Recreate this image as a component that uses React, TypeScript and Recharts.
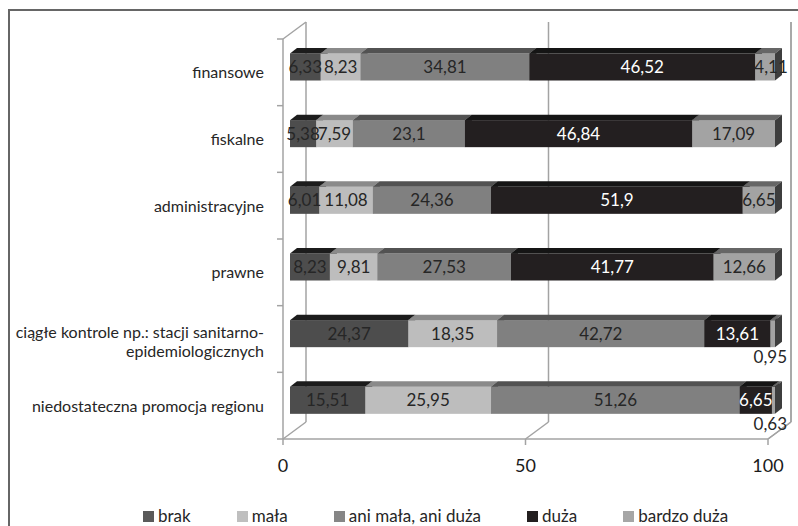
import React from 'react'
import { BarChart, Bar, XAxis, YAxis, CartesianGrid, LabelList } from 'recharts'

const categories = [
  'finansowe',
  'fiskalne',
  'administracyjne',
  'prawne',
  'ciągłe kontrole np.: stacji sanitarno-epidemiologicznych',
  'niedostateczna promocja regionu',
]
const brak = [6.33, 5.38, 6.01, 8.23, 24.37, 15.51]
const mala = [8.23, 7.59, 11.08, 9.81, 18.35, 25.95]
const aniMalaAniDuza = [34.81, 23.1, 24.36, 27.53, 42.72, 51.26]
const duza = [46.52, 46.84, 51.9, 41.77, 13.61, 6.65]
const bardzoDuza = [4.11, 17.09, 6.65, 12.66, 0.95, 0.63]
const xTicks = [0, 50, 100]

const series = [
  { key: 'brak', name: 'brak', values: brak, front: '#4d4d4d', top: '#1c1c1c', side: '#333333', text: '#262626', legend: '#5a5a5a' },
  { key: 'mala', name: 'mała', values: mala, front: '#bdbdbd', top: '#8a8a8a', side: '#8a8a8a', text: '#262626', legend: '#bfbfbf' },
  { key: 'ani', name: 'ani mała, ani duża', values: aniMalaAniDuza, front: '#808080', top: '#525252', side: '#4a4a4a', text: '#262626', legend: '#868686' },
  { key: 'duza', name: 'duża', values: duza, front: '#231f20', top: '#151515', side: '#111111', text: '#ffffff', legend: '#231f20' },
  { key: 'bardzo', name: 'bardzo duża', values: bardzoDuza, front: '#a3a3a3', top: '#666666', side: '#3d3d3d', text: '#262626', legend: '#a6a6a6' },
]

const data = categories.map((name, i) => {
  const row: any = { name }
  series.forEach((s) => (row[s.key] = s.values[i]))
  return row
})

const W = 798
const H = 526
const Y_AXIS_W = 283
const MARGIN = { top: 39, right: 30, left: 0, bottom: 57 }
const PLOT_H = H - MARGIN.top - MARGIN.bottom - 30
const BAND = PLOT_H / categories.length
// 3D offsets: wall depth and bar depth
const DX = 23
const DY = 17
const BX = 7
const BY = 5.5
const AXIS_COLOR = '#a3a3a3'
const FONT = 'Lato, "Open Sans", sans-serif'

const fmt = (v: number) => String(v).replace('.', ',')

const makeShape = (s: any) => (props: any) => {
  const { x, y, width, height } = props
  const x0 = x + BX
  const y0 = y - BY
  return (
    <g>
      <rect x={x0} y={y0} width={width} height={height} fill={s.front} />
      <polygon
        points={`${x0},${y0} ${x0 + width},${y0} ${x0 + width + BX},${y0 - BY} ${x0 + BX},${y0 - BY}`}
        fill={s.top}
      />
      <polygon
        points={`${x0 + width},${y0} ${x0 + width + BX},${y0 - BY} ${x0 + width + BX},${y0 + height - BY} ${x0 + width},${y0 + height}`}
        fill={s.side}
      />
    </g>
  )
}

const makeLabel = (s: any) => (props: any) => {
  const { x, y, width, height, value } = props
  if (value == null) return null
  if (s.key === 'bardzo' && value < 2) {
    return (
      <text
        x={x + width + BX + 12}
        y={y - BY + height + 10}
        dy="0.35em"
        textAnchor="end"
        fontSize={17}
        fontFamily={FONT}
        fill="#262626"
      >
        {fmt(value)}
      </text>
    )
  }
  // narrow end segments: Excel nudges the label right so it sits on the lighter face
  const nudge = s.key === 'bardzo' && value < 5 ? 6 : 0
  return (
    <text
      x={x + width / 2 + BX + nudge}
      y={y - BY + height / 2}
      dy="0.36em"
      textAnchor="middle"
      fontSize={17}
      fontFamily={FONT}
      fill={s.text}
    >
      {fmt(value)}
    </text>
  )
}

const CategoryTick = (props: any) => {
  const { y, payload, index } = props
  const name: string = payload.value
  const ax = Y_AXIS_W
  const tx = ax - 19
  let lines = [name]
  if (name.length > 34) {
    const i = name.lastIndexOf('-')
    lines = [name.slice(0, i + 1), name.slice(i + 1)]
  }
  return (
    <g>
      <line x1={ax - 6} y1={y - BAND / 2} x2={ax} y2={y - BAND / 2} stroke={AXIS_COLOR} strokeWidth={1.5} />
      {index === categories.length - 1 && (
        <line x1={ax - 6} y1={y + BAND / 2} x2={ax} y2={y + BAND / 2} stroke={AXIS_COLOR} strokeWidth={1.5} />
      )}
      {lines.length === 1 ? (
        <text x={tx} y={y + 6} textAnchor="end" fontSize={16} fontFamily={FONT} fill="#262626">
          {name}
        </text>
      ) : (
        <text x={tx} y={y - 1} textAnchor="end" fontSize={16} fontFamily={FONT} fill="#262626">
          <tspan x={tx}>{lines[0]}</tspan>
          <tspan x={tx} dy={19}>{lines[1]}</tspan>
        </text>
      )}
    </g>
  )
}

const GridLine = (props: any) => {
  const { x1, y1, y2 } = props
  const isLeft = Math.abs(x1 - Y_AXIS_W) < 1
  return (
    <g key={props.key}>
      <line x1={x1 + DX} y1={y1 - DY} x2={x1 + DX} y2={y2 - DY} stroke={AXIS_COLOR} strokeWidth={1.5} />
      <line x1={x1} y1={y2} x2={x1 + DX} y2={y2 - DY} stroke={AXIS_COLOR} strokeWidth={1.5} />
      {isLeft && <line x1={x1} y1={y1} x2={x1 + DX} y2={y1 - DY} stroke={AXIS_COLOR} strokeWidth={1.5} />}
    </g>
  )
}

export default function App() {
  return (
    <div
      style={{
        position: 'absolute',
        left: 0,
        top: 0,
        width: W,
        height: H,
        overflow: 'hidden',
        background: '#fff',
        fontFamily: FONT,
      }}
    >
      <div
        style={{
          position: 'absolute',
          left: 8,
          top: 9,
          width: W + 20,
          height: H + 20,
          borderTop: '2px solid #666',
          borderLeft: '2px solid #666',
        }}
      />
      <BarChart width={W} height={H} data={data} layout="vertical" margin={MARGIN} barSize={27}>
        <CartesianGrid horizontal={false} vertical={GridLine} />
        <XAxis
          type="number"
          domain={[0, 100]}
          ticks={xTicks}
          height={30}
          axisLine={{ stroke: AXIS_COLOR, strokeWidth: 1.5 }}
          tickLine={{ stroke: AXIS_COLOR, strokeWidth: 1.5 }}
          tickSize={6}
          tickMargin={14}
          tick={{ fill: '#1a1a1a', fontSize: 18, fontFamily: FONT }}
        />
        <YAxis
          type="category"
          dataKey="name"
          width={Y_AXIS_W}
          axisLine={{ stroke: AXIS_COLOR, strokeWidth: 1.5 }}
          tickLine={false}
          tick={<CategoryTick />}
          interval={0}
        />
        {series.map((s) => (
          <Bar
            key={s.key}
            dataKey={s.key}
            name={s.name}
            stackId="a"
            fill={s.front}
            shape={makeShape(s)}
            isAnimationActive={false}
          >
            <LabelList dataKey={s.key} content={makeLabel(s)} />
          </Bar>
        ))}
      </BarChart>
      <div
        style={{
          position: 'absolute',
          left: 143,
          top: 506,
          display: 'flex',
          alignItems: 'center',
          gap: 46,
          fontSize: 17,
          color: '#262626',
          lineHeight: '20px',
        }}
      >
        {series.map((s) => (
          <div key={s.key} style={{ display: 'flex', alignItems: 'center', gap: 4 }}>
            <span style={{ width: 11, height: 11, background: s.legend, display: 'inline-block' }} />
            <span>{s.name}</span>
          </div>
        ))}
      </div>
    </div>
  )
}
